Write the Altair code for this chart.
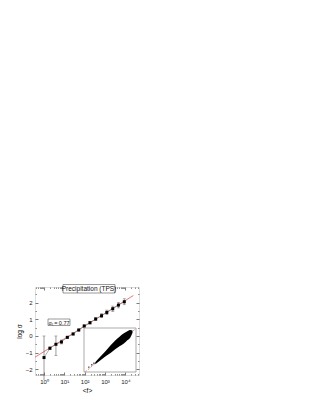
import altair as alt
import pandas as pd

# ---- main series ----
mean_f = [1, 1.95, 3.85, 7.2, 14, 27, 51, 95, 182, 347, 676, 1230, 2400, 4570, 8900]
log_sigma = [-1.3, -0.74, -0.5, -0.36, -0.08, 0.12, 0.36, 0.6, 0.8, 1.02, 1.22, 1.42, 1.64, 1.86, 2.06]
err_low = [-2.65, -0.82, -1.18, -0.48, -0.14, 0.06, 0.30, 0.53, 0.72, 0.92, 1.10, 1.28, 1.48, 1.69, 1.88]
err_high = [0.0, -0.66, 0.0, -0.24, -0.02, 0.18, 0.42, 0.67, 0.88, 1.12, 1.34, 1.56, 1.80, 2.03, 2.24]

fit_x = [0.36, 25000]
fit_y = [-1.28, 2.44]

x_ticks = [1, 10, 100, 1000, 10000]
x_minor = [m * 10 ** k for k in range(-1, 5) for m in range(2, 10) if 0.36 <= m * 10 ** k <= 47000]
y_ticks = [-2, -1, 0, 1, 2]
y_minor = [-1.5, -0.5, 0.5, 1.5, 2.5]

# ---- inset (log <f>, log sigma cloud outline) ----
cloud_x = [0.3, 0.9, 1.5, 2.1, 2.6, 3.1, 3.6, 4.0, 4.35, 4.6]
cloud_lo = [-0.8, -0.38, 0.02, 0.4, 0.74, 1.05, 1.35, 1.68, 1.98, 2.45]
cloud_hi = [-0.58, 0.0, 0.58, 1.18, 1.65, 2.05, 2.4, 2.62, 2.75, 2.7]
tail_x = [-0.45, -0.1, 0.15]
tail_y = [-1.1, -0.85, -0.7]
inset_fit_x = [-0.85, 4.85]
inset_fit_y = [-1.59, 2.79]

FONT = "Liberation Sans"
RED = "#e05555"

df = pd.DataFrame({"f": mean_f, "s": log_sigma, "lo": err_low, "hi": err_high})
df_fit = pd.DataFrame({"f": fit_x, "s": fit_y})
df_minor_x = pd.DataFrame({"f": x_minor})
df_minor_y = pd.DataFrame({"s": y_minor})
one = pd.DataFrame({"a": [0]})

xs = alt.Scale(type="log", domain=[0.36, 47000], nice=False)
ys = alt.Scale(domain=[-2.35, 2.95], nice=False, zero=False)

lab_expr = "'10' + ['⁰','¹','²','³','⁴'][round(log(datum.value)/LN10)]"

ax_bottom = alt.Axis(orient="bottom", values=x_ticks, labelExpr=lab_expr, domain=False, offset=-3,
                     tickSize=3, tickColor="#222", tickWidth=0.6, labelPadding=3, title="<f>",
                     titlePadding=3, grid=False, labelFontSize=6, titleFontSize=6.5,
                     labelFont=FONT, titleFont=FONT, titleFontWeight="normal", labelColor="#222")
ax_left = alt.Axis(orient="left", values=y_ticks, domain=False, offset=-3, tickSize=3,
                   tickColor="#222", tickWidth=0.6, labelPadding=3, title="log σ", titlePadding=3,
                   grid=False, labelFontSize=6, titleFontSize=6.5, labelFont=FONT, titleFont=FONT,
                   titleFontWeight="normal", labelColor="#222")
ax_top = alt.Axis(orient="top", values=x_ticks, labels=False, domain=False, offset=-3, tickSize=3,
                  tickColor="#222", tickWidth=0.6, title=None, grid=False)
ax_right = alt.Axis(orient="right", values=y_ticks, labels=False, domain=False, offset=-3, tickSize=3,
                    tickColor="#222", tickWidth=0.6, title=None, grid=False)

fit = alt.Chart(df_fit).mark_line(color=RED, strokeWidth=0.8).encode(
    x=alt.X("f:Q", scale=xs, axis=None), y=alt.Y("s:Q", scale=ys, axis=None))
conn = alt.Chart(df).mark_line(color="#777", strokeWidth=0.6).encode(
    x=alt.X("f:Q", scale=xs, axis=ax_top), y=alt.Y("s:Q", scale=ys, axis=ax_right))
bars = alt.Chart(df).mark_rule(color="#555", strokeWidth=0.6).encode(
    x=alt.X("f:Q", scale=xs, axis=None), y=alt.Y("lo:Q", scale=ys, axis=None), y2="hi:Q")
cap_lo = alt.Chart(df).mark_tick(color="#555", orient="horizontal", size=3, thickness=0.6, clip=True).encode(
    x=alt.X("f:Q", scale=xs, axis=None), y=alt.Y("lo:Q", scale=ys, axis=None))
cap_hi = alt.Chart(df).mark_tick(color="#555", orient="horizontal", size=3, thickness=0.6, clip=True).encode(
    x=alt.X("f:Q", scale=xs, axis=None), y=alt.Y("hi:Q", scale=ys, axis=None))
pts = alt.Chart(df).mark_square(color="black", size=9, opacity=1).encode(
    x=alt.X("f:Q", scale=xs, axis=ax_bottom), y=alt.Y("s:Q", scale=ys, axis=ax_left))

minor_b = alt.Chart(df_minor_x).mark_point(opacity=0).encode(
    x=alt.X("f:Q", scale=xs, axis=alt.Axis(orient="bottom", values=x_minor, labels=False, domain=False,
                                           offset=-1.5, tickSize=1.5, tickColor="#222", tickWidth=0.5,
                                           title=None, grid=False)))
minor_t = alt.Chart(df_minor_x).mark_point(opacity=0).encode(
    x=alt.X("f:Q", scale=xs, axis=alt.Axis(orient="top", values=x_minor, labels=False, domain=False,
                                           offset=-1.5, tickSize=1.5, tickColor="#222", tickWidth=0.5,
                                           title=None, grid=False)))
minor_l = alt.Chart(df_minor_y).mark_point(opacity=0).encode(
    y=alt.Y("s:Q", scale=ys, axis=alt.Axis(orient="left", values=y_minor, labels=False, domain=False,
                                           offset=-1.5, tickSize=1.5, tickColor="#222", tickWidth=0.5,
                                           title=None, grid=False)))
minor_r = alt.Chart(df_minor_y).mark_point(opacity=0).encode(
    y=alt.Y("s:Q", scale=ys, axis=alt.Axis(orient="right", values=y_minor, labels=False, domain=False,
                                           offset=-1.5, tickSize=1.5, tickColor="#222", tickWidth=0.5,
                                           title=None, grid=False)))

main = alt.layer(fit, conn, bars, cap_lo, cap_hi, pts, minor_b, minor_t, minor_l, minor_r).resolve_axis(
    x="independent", y="independent")

# ---- inset ----
ixs = alt.Scale(domain=[-1, 5], range=[49, 101], nice=False, zero=False)
iys = alt.Scale(domain=[-1.6, 2.95], range=[85, 41], nice=False, zero=False)
df_cloud = pd.DataFrame({"x": cloud_x, "lo": cloud_lo, "hi": cloud_hi})
df_tail = pd.DataFrame({"x": tail_x, "y": tail_y})
df_ifit = pd.DataFrame({"x": inset_fit_x, "y": inset_fit_y})

inset_frame = alt.Chart(one).mark_rect(fill="white", stroke="#888", strokeWidth=0.7).encode(
    x=alt.value(49), x2=alt.value(101), y=alt.value(41), y2=alt.value(85))
inset_line = alt.Chart(df_ifit).mark_line(color=RED, strokeWidth=0.7, strokeDash=[2, 1.5]).encode(
    x=alt.X("x:Q", scale=ixs, axis=None), y=alt.Y("y:Q", scale=iys, axis=None))
cloud = alt.Chart(df_cloud).mark_area(color="black", interpolate="monotone").encode(
    x=alt.X("x:Q", scale=ixs, axis=None), y=alt.Y("lo:Q", scale=iys, axis=None), y2="hi:Q")
tail = alt.Chart(df_tail).mark_square(color="black", size=2).encode(
    x=alt.X("x:Q", scale=ixs, axis=None), y=alt.Y("y:Q", scale=iys, axis=None))
inset = alt.layer(inset_frame, inset_line, cloud, tail)

# ---- title box and annotation ----
title_box = alt.Chart(one).mark_rect(fill="white", stroke="#555", strokeWidth=0.6).encode(
    x=alt.value(28), x2=alt.value(80), y=alt.value(-2.5), y2=alt.value(6))
title_txt = alt.Chart(one).mark_text(font=FONT, fontSize=6.5, color="#111").encode(
    x=alt.value(54), y=alt.value(2), text=alt.value("Precipitation (TPS)"))
ann_box = alt.Chart(one).mark_rect(fill="white", stroke="#555", strokeWidth=0.6).encode(
    x=alt.value(13), x2=alt.value(35), y=alt.value(32), y2=alt.value(38.5))
ann_txt = alt.Chart(one).mark_text(font=FONT, fontSize=5.5, color="#111").encode(
    x=alt.value(24), y=alt.value(35.5), text=alt.value("αₜ = 0.77"))

chart = alt.layer(main, inset, title_box, title_txt, ann_box, ann_txt).resolve_scale(
    x="independent", y="independent").properties(
    width=104, height=88,
    autosize=alt.AutoSizeParams(type="none"),
    padding={"left": 27, "top": 279, "right": 12, "bottom": 20},
).configure_view(stroke="#222", strokeWidth=0.8).configure(background="white")

chart.save("out.html", embed_options={"renderer": "svg", "actions": False})
